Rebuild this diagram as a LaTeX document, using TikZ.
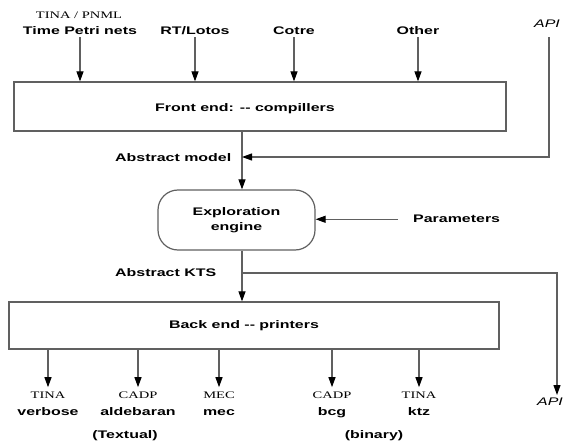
\documentclass[tikz,border=0pt]{standalone}
\usepackage{fontspec}
\setmainfont{Liberation Sans}[FakeStretch=1.45]
\newfontfamily\toolfont{Liberation Serif}[FakeStretch=1.45]
\usetikzlibrary{arrows.meta}
\definecolor{linegray}{RGB}{96,96,96}

\begin{document}
\begin{tikzpicture}[
            x=1bp, y=-1bp,
            every node/.style={inner sep=0pt, font=\fontsize{11bp}{15bp}\selectfont\bfseries},
            stage/.style={draw=linegray, line width=1.2bp, rectangle},
            tool/.style={anchor=base, font=\fontsize{10bp}{12bp}\selectfont\toolfont},
            api/.style={anchor=base, font=\fontsize{11bp}{13bp}\selectfont\itshape},
            flow/.style={draw=linegray, line width=1.1bp, -{Triangle[width=7bp,length=10bp,color=black]}}
        ]

        \useasboundingbox (0,0) rectangle (567,442);

        \node[tool] (tpntool) at (79,19) {TINA / PNML};
        \node[anchor=base] (tpn) at (80,35) {Time Petri nets};
        \node[anchor=base] (rtlotos) at (195,35) {RT/Lotos};
        \node[anchor=base] (cotre) at (294,35) {Cotre};
        \node[anchor=base] (other) at (418,35) {Other};
        \node[api] (apiin) at (547,28) {API};

        \node[stage, minimum width=492bp, minimum height=49bp] (front) at (260,106.5) {};
        \node[anchor=base] (fronttitle) at (245,112) {Front end: -{}- compillers};

        \node[anchor=base west] (model) at (115,162) {Abstract model};
        \node[stage, rounded corners=20bp, minimum width=157bp, minimum height=60bp, align=center] (engine) at (236.5,220) {Exploration\\engine};
        \node[anchor=base west] (params) at (413,223) {Parameters};
        \node[anchor=base west] (kts) at (115,277) {Abstract KTS};

        \node[stage, minimum width=490bp, minimum height=47bp] (back) at (254,325.5) {};
        \node[anchor=base] (backtitle) at (244,328) {Back end -{}- printers};

        \node[tool] (verbosetool) at (48,398) {TINA};
        \node[anchor=base] (verbose) at (48,415) {verbose};
        \node[tool] (aldebarantool) at (138,398) {CADP};
        \node[anchor=base] (aldebaran) at (138,415) {aldebaran};
        \node[tool] (mectool) at (219,398) {MEC};
        \node[anchor=base] (mec) at (219,415) {mec};
        \node[tool] (bcgtool) at (332,398) {CADP};
        \node[anchor=base] (bcg) at (332,415) {bcg};
        \node[tool] (ktztool) at (419,398) {TINA};
        \node[anchor=base] (ktz) at (419,415) {ktz};
        \node[anchor=base] (textual) at (125,438) {(Textual)};
        \node[anchor=base] (binary) at (374,438) {(binary)};
        \node[api] (apiout) at (550,405) {API};

        \coordinate (spine) at (242,160);
        \coordinate (modeljoin) at (242,157);
        \coordinate (ktsjoin) at (242,273);
        \coordinate (apidrop) at (557,395);

        \draw[flow, shorten <=2bp] (tpn.south) -- (tpn.south |- front.north);
        \draw[flow, shorten <=2bp] (rtlotos.south) -- (rtlotos.south |- front.north);
        \draw[flow, shorten <=2bp] (cotre.south) -- (cotre.south |- front.north);
        \draw[flow, shorten <=2bp] (other.south) -- (other.south |- front.north);

        \draw[flow] (front.south -| spine) -- (engine.north -| spine);
        \draw[flow, shorten <=9bp] ([xshift=2bp]apiin.south) |- (modeljoin);
        \draw[flow] ([xshift=-15bp]params.west) -- (params.west -| engine.east);
        \draw[flow] (engine.south -| spine) -- (back.north -| spine);
        \draw[flow] (ktsjoin) -| (apidrop);

        \draw[flow, shorten >=4bp] (back.south -| verbosetool) -- (verbosetool.north);
        \draw[flow, shorten >=4bp] (back.south -| aldebarantool) -- (aldebarantool.north);
        \draw[flow, shorten >=4bp] (back.south -| mectool) -- (mectool.north);
        \draw[flow, shorten >=4bp] (back.south -| bcgtool) -- (bcgtool.north);
        \draw[flow, shorten >=4bp] (back.south -| ktztool) -- (ktztool.north);

        \end{tikzpicture}
\end{document}
